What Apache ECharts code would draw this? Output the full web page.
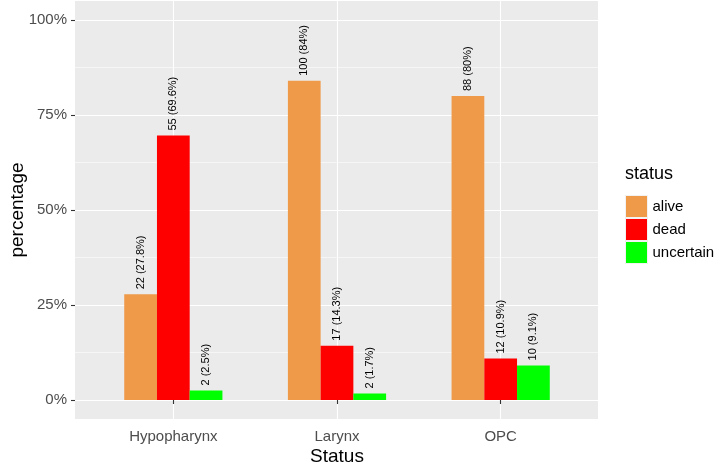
<!DOCTYPE html>
<html>
<head>
<meta charset="utf-8">
<script src="https://cdn.jsdelivr.net/npm/echarts@6/dist/echarts.min.js"></script>
<style>html,body{margin:0;padding:0;background:#fff}#c{width:722px;height:466px}</style>
</head>
<body>
<div id="c"></div>
<script>
const categories = ['Hypopharynx', 'Larynx', 'OPC'];
const aliveVals = [0.278, 0.84, 0.80];
const aliveCounts = [22, 100, 88];
const deadVals = [0.696, 0.143, 0.109];
const deadCounts = [55, 17, 12];
const uncertainVals = [0.025, 0.017, 0.091];
const uncertainCounts = [2, 2, 10];
const yTicks = [0, 0.25, 0.5, 0.75, 1];

const FONT = 'Liberation Sans, Arial, sans-serif';
const chart = echarts.init(document.getElementById('c'), null, {renderer: 'canvas'});

function mkSeries(name, vals, counts, color) {
  return {
    name: name, type: 'bar', xAxisIndex: 3, yAxisIndex: 3,
    data: vals, barGap: '0%', barCategoryGap: '40%',
    itemStyle: {color: color},
    label: {
      show: true, position: 'top', rotate: 90, align: 'left', verticalAlign: 'middle',
      distance: 3, offset: [2, 0], color: '#000', fontSize: 11, fontFamily: FONT,
      formatter: p => counts[p.dataIndex] + ' (' + parseFloat((p.value * 100).toFixed(1)) + '%)'
    },
    emphasis: {disabled: true}, animation: false
  };
}

const G = {outerBoundsMode: 'none', containLabel: false, show: false};
const option = {
  animation: false,
  backgroundColor: '#ffffff',
  title: {text: 'status', left: 620, top: 160, textStyle: {fontSize: 18, fontWeight: 'normal', color: '#000', fontFamily: FONT}},
  legend: {
    orient: 'vertical', left: 620, top: 190, itemWidth: 22, itemHeight: 22, itemGap: 0,
    icon: 'rect', itemStyle: {borderColor: '#F2F2F2', borderWidth: 1},
    textStyle: {fontSize: 15, color: '#000', fontFamily: FONT, padding: [0, 0, 0, 0]},
    data: ['alive', 'dead', 'uncertain']
  },
  grid: [
    Object.assign({}, G, {left: 75, right: 124, top: 1, bottom: 47, show: true, backgroundColor: '#EBEBEB', borderWidth: 0, z: -1}),
    Object.assign({}, G, {left: 173.3, right: 221.3, top: 1, bottom: 47}),
    Object.assign({}, G, {left: 75, right: 124, top: 20, bottom: 66}),
    Object.assign({}, G, {left: 91.5, right: 139.5, top: 20, bottom: 66})
  ],
  xAxis: [
    {gridIndex: 0, type: 'value', show: false, min: 0, max: 1},
    {gridIndex: 1, type: 'value', min: 0, max: 2, interval: 1,
     axisLine: {show: false}, axisTick: {show: false}, axisLabel: {show: false},
     splitLine: {show: true, lineStyle: {color: '#ffffff', width: 1.1}}},
    {gridIndex: 2, type: 'value', show: false, min: 0, max: 1},
    {gridIndex: 3, type: 'category', data: categories, offset: 19,
     axisLine: {show: false},
     axisTick: {show: true, alignWithLabel: true, length: 4, lineStyle: {color: '#333333', width: 1.1}},
     axisLabel: {color: '#4D4D4D', fontSize: 15, fontFamily: FONT, margin: 10},
     splitLine: {show: false},
     name: 'Status', nameLocation: 'middle', nameGap: 28, nameMoveOverlap: false,
     nameTextStyle: {fontSize: 19, color: '#000', fontFamily: FONT}}
  ],
  yAxis: [
    {gridIndex: 0, type: 'value', show: false, min: 0, max: 1},
    {gridIndex: 1, type: 'value', show: false, min: 0, max: 1},
    {gridIndex: 2, type: 'value', min: 0, max: 1, interval: 0.25,
     axisLine: {show: false},
     axisTick: {show: true, length: 4, lineStyle: {color: '#333333', width: 1.1}},
     axisLabel: {color: '#4D4D4D', fontSize: 15, fontFamily: FONT, margin: 8,
                 formatter: v => (yTicks.indexOf(v) >= 0 ? Math.round(v * 100) + '%' : '')},
     splitLine: {show: true, lineStyle: {color: '#ffffff', width: 1.1}},
     minorTick: {show: false, splitNumber: 2},
     minorSplitLine: {show: true, lineStyle: {color: '#ffffff', width: 0.55}},
     name: 'percentage', nameLocation: 'middle', nameGap: 48, nameRotate: 90, nameMoveOverlap: false,
     nameTextStyle: {fontSize: 19, color: '#000', fontFamily: FONT}},
    {gridIndex: 3, type: 'value', show: false, min: 0, max: 1}
  ],
  series: [
    mkSeries('alive', aliveVals, aliveCounts, '#EE9A49'),
    mkSeries('dead', deadVals, deadCounts, '#FF0000'),
    mkSeries('uncertain', uncertainVals, uncertainCounts, '#00FF00')
  ]
};
chart.setOption(option);
</script>
</body>
</html>
